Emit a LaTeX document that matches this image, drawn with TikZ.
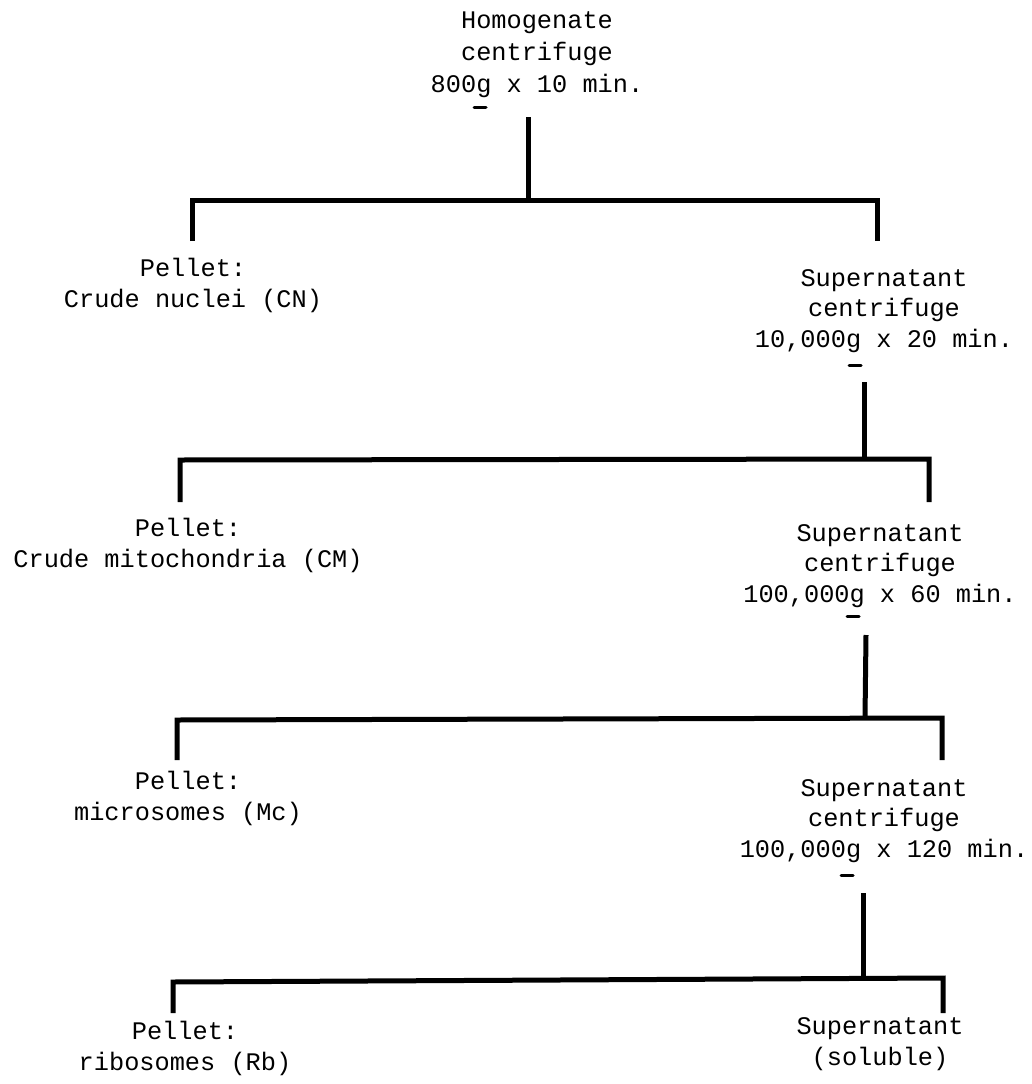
\documentclass[tikz,border=0pt]{standalone}
\usepackage{fontspec}
\newfontfamily\typefont{Liberation Mono}
\tikzset{
  txt/.style={font=\typefont\fontsize{25.3}{30.4}\selectfont, align=center, inner sep=0pt, anchor=base},
  toptxt/.style={txt, font=\typefont\fontsize{25.3}{31.8}\selectfont},
  link/.style={line width=5pt, line join=miter, line cap=butt},
  gmark/.style={line width=3pt, line cap=round}
}
\begin{document}
\begin{tikzpicture}[x=1pt, y=-1pt]
\useasboundingbox (0,0) rectangle (1032,1084);
\fill[white] (0,0) rectangle (1032,1084);

% text blocks (anchor = baseline of the last line)
\node[toptxt] (h0) at (537,92) {Homogenate\\centrifuge\\800g x 10 min.};
\node[txt] (p1) at (193,307) {Pellet:\\Crude nuclei (CN)};
\node[txt] (s1) at (884,347) {Supernatant\\centrifuge\\10,000g x 20 min.};
\node[txt] (p2) at (188,567) {Pellet:\\Crude mitochondria (CM)};
\node[txt] (s2) at (880,602) {Supernatant\\centrifuge\\100,000g x 60 min.};
\node[txt] (p3) at (188,820) {Pellet:\\microsomes (Mc)};
\node[txt] (s3) at (884,857) {Supernatant\\centrifuge\\100,000g x 120 min.};
\node[txt] (p4) at (185,1070) {Pellet:\\ribosomes (Rb)};
\node[txt] (s4) at (880,1065) {Supernatant\\(soluble)};

% underline marks under g
\draw[gmark] (474,107) -- (486,107);
\draw[gmark] (849,365) -- (861,365);
\draw[gmark] (847,616) -- (859,616);
\draw[gmark] (841,875) -- (853,875);

% level 1
\coordinate (t1) at (528,117);
\coordinate (j1) at (528,200);
\coordinate (l1) at (192,200);
\coordinate (r1) at (877,200);
\coordinate (lb1) at (192,241);
\coordinate (rb1) at (877,241);
\draw[link] (t1) -- (j1);
\draw[link] (lb1) -- (l1) -- (r1) -- (rb1);

% level 2
\coordinate (t2) at (864,382);
\coordinate (j2) at (864,459);
\coordinate (l2) at (180,460);
\coordinate (r2) at (929,459);
\coordinate (lb2) at (180,502);
\coordinate (rb2) at (929,502);
\draw[link] (t2) -- (j2);
\draw[link] (lb2) -- (l2) -- (r2) -- (rb2);

% level 3
\coordinate (t3) at (866,635);
\coordinate (j3) at (865,718);
\coordinate (l3) at (177,720);
\coordinate (r3) at (942,718);
\coordinate (lb3) at (177,760);
\coordinate (rb3) at (942,760);
\draw[link] (t3) -- (j3);
\draw[link] (lb3) -- (l3) -- (r3) -- (rb3);

% level 4
\coordinate (t4) at (863,893);
\coordinate (j4) at (863,978);
\coordinate (l4) at (173,982);
\coordinate (r4) at (943,978);
\coordinate (lb4) at (173,1013);
\coordinate (rb4) at (943,1013);
\draw[link] (t4) -- (j4);
\draw[link] (lb4) -- (l4) -- (r4) -- (rb4);
\end{tikzpicture}
\end{document}
